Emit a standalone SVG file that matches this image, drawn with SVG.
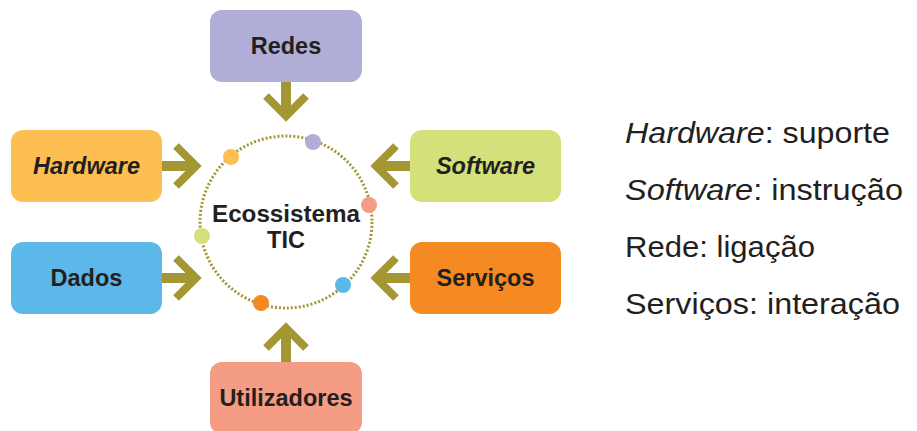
<svg xmlns="http://www.w3.org/2000/svg" width="917" height="431" viewBox="0 0 917 431">
<style>
.box{stroke:none}
.lbl{font-family:"Liberation Sans",Arial,sans-serif;font-weight:bold;font-size:23.5px;fill:#231f20;text-anchor:middle}
.it{font-style:italic}
.side{font-family:"Liberation Sans",Arial,sans-serif;font-size:30px;fill:#231f20}
.shaft{stroke:#a39733;stroke-width:10;fill:none}
.head{stroke:#a39733;stroke-width:8;fill:none;stroke-linecap:butt;stroke-linejoin:miter}
.ring{fill:none;stroke:#a39733;stroke-width:3;stroke-dasharray:2 2}
</style>
<rect width="917" height="431" fill="#ffffff"/>
<g id="connectors">
  <path class="shaft" d="M286 82V114"/><path class="head" d="M266 96L286 116L306 96"/>
  <path class="shaft" d="M162 166H195"/><path class="head" d="M176 146L196 166L176 186"/>
  <path class="shaft" d="M162 278H195"/><path class="head" d="M176 258L196 278L176 298"/>
  <path class="shaft" d="M410 166H377"/><path class="head" d="M396 146L376 166L396 186"/>
  <path class="shaft" d="M410 278H377"/><path class="head" d="M396 258L376 278L396 298"/>
  <path class="shaft" d="M286 362V330"/><path class="head" d="M266 348L286 328L306 348"/>
</g>
<g id="ecossistema">
  <circle class="ring" cx="286" cy="222" r="86"/>
  <circle cx="231" cy="157" r="8" fill="#fdbe52"/>
  <circle cx="313" cy="142" r="8" fill="#b0aed6"/>
  <circle cx="369" cy="205" r="8" fill="#f49c84"/>
  <circle cx="202" cy="236" r="8" fill="#d4e079"/>
  <circle cx="343" cy="285" r="8" fill="#5bb8e8"/>
  <circle cx="261" cy="303" r="8" fill="#f58a23"/>
  <text class="lbl" x="286" y="222" font-size="24" textLength="148" lengthAdjust="spacingAndGlyphs">Ecossistema</text>
  <text class="lbl" x="286" y="248" font-size="24">TIC</text>
</g>
<g id="redes"><rect class="box" x="210" y="10" width="152" height="72" rx="12" fill="#b0aed6"/><text class="lbl" x="286" y="54">Redes</text></g>
<g id="hardware"><rect class="box" x="11" y="130" width="151" height="72" rx="12" fill="#fdbe52"/><text class="lbl it" x="86.5" y="174">Hardware</text></g>
<g id="software"><rect class="box" x="410" y="130" width="151" height="72" rx="12" fill="#d4e079"/><text class="lbl it" x="485.5" y="174">Software</text></g>
<g id="dados"><rect class="box" x="11" y="242" width="151" height="72" rx="12" fill="#5bb8e8"/><text class="lbl" x="86.5" y="286">Dados</text></g>
<g id="servicos"><rect class="box" x="410" y="242" width="151" height="72" rx="12" fill="#f58a23"/><text class="lbl" x="485.5" y="286">Serviços</text></g>
<g id="utilizadores"><rect class="box" x="210" y="362" width="152" height="72" rx="12" fill="#f49c84"/><text class="lbl" x="286" y="406">Utilizadores</text></g>
<g id="legenda">
  <text class="side" x="625" y="143" textLength="265" lengthAdjust="spacingAndGlyphs"><tspan class="it">Hardware</tspan>: suporte</text>
  <text class="side" x="625" y="200" textLength="278" lengthAdjust="spacingAndGlyphs"><tspan class="it">Software</tspan>: instrução</text>
  <text class="side" x="625" y="257" textLength="190" lengthAdjust="spacingAndGlyphs">Rede: ligação</text>
  <text class="side" x="625" y="314" textLength="275" lengthAdjust="spacingAndGlyphs">Serviços: interação</text>
</g>
</svg>
